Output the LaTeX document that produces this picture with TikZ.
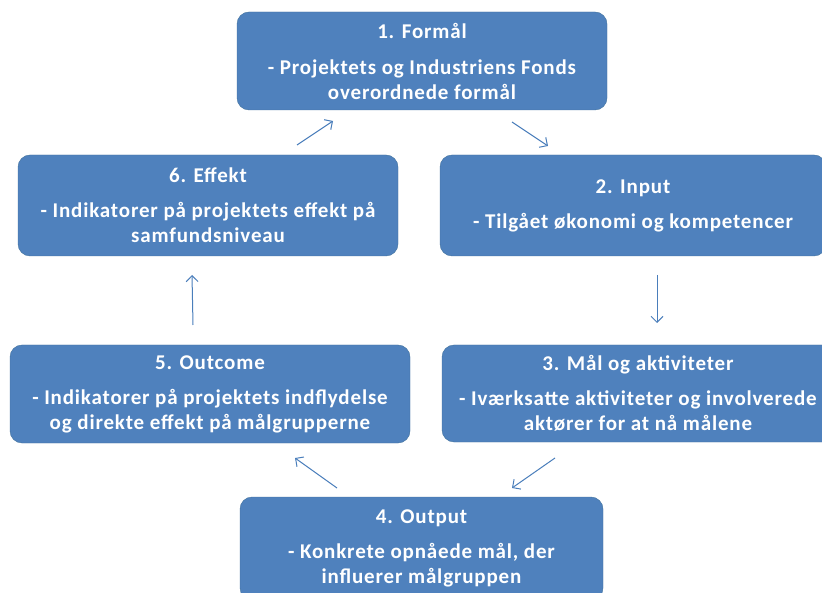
\documentclass[tikz,border=0pt]{standalone}
\usepackage{fontspec}
\setmainfont{Carlito}
\usetikzlibrary{arrows.meta}
\definecolor{boxblue}{HTML}{4F81BD}
\definecolor{boxedge}{HTML}{41719C}
\definecolor{arrowblue}{HTML}{4A7EBB}
\tikzset{
  stepbox/.style={draw=boxedge, fill=boxblue, rounded corners=12pt, text=white,
    align=center, inner sep=0pt,
    font=\fontsize{21}{25}\selectfont\bfseries\addfontfeature{LetterSpace=4}},
  cyclearrow/.style={draw=arrowblue, line width=1pt,
    -{Straight Barb[length=6pt,width=12pt]}}
}
\begin{document}
\begin{tikzpicture}[x=1pt,y=-1pt]
    \useasboundingbox (0,0) rectangle (822,593);
    % steps
    \node[stepbox, minimum width=370, minimum height=98] (formaal) at (422,61)
      {1. Formål\\[11pt]- Projektets og Industriens Fonds\\overordnede formål};
    \node[stepbox, minimum width=386, minimum height=101] (input) at (633,205.5)
      {2. Input\\[10pt]- Tilgået økonomi og kompetencer};
    \node[stepbox, minimum width=392, minimum height=97] (maal) at (638,393.5)
      {3. Mål og aktiviteter\\[10pt]- Iværksatte aktiviteter og involverede\\aktører for at nå målene};
    \node[stepbox, minimum width=363, minimum height=103] (output) at (421.5,548.5)
      {4. Output\\[10pt]- Konkrete opnåede mål, der\\influerer målgruppen};
    \node[stepbox, minimum width=400, minimum height=98] (outcome) at (210,394)
      {5. Outcome\\[10pt]- Indikatorer på projektets indflydelse\\og direkte effekt på målgrupperne};
    \node[stepbox, minimum width=380, minimum height=101] (effekt) at (208,205.5)
      {6. Effekt\\[10pt]- Indikatorer på projektets effekt på\\samfundsniveau};
    % arrow ends
    \coordinate (e1) at (297,145);  \coordinate (f1) at (333,121);
    \coordinate (e2) at (512,122);  \coordinate (f2) at (548,146);
    \coordinate (e3) at (657,275);  \coordinate (f3) at (657,323);
    \coordinate (e4) at (555,458);  \coordinate (f4) at (512,488);
    \coordinate (e5) at (337,488);  \coordinate (f5) at (295,458);
    \coordinate (e6) at (193,325);  \coordinate (f6) at (192,275);
    % cycle
    \draw[cyclearrow] (e1) -- (f1);
    \draw[cyclearrow] (e2) -- (f2);
    \draw[cyclearrow] (e3) -- (f3);
    \draw[cyclearrow] (e4) -- (f4);
    \draw[cyclearrow] (e5) -- (f5);
    \draw[cyclearrow] (e6) -- (f6);
\end{tikzpicture}
\end{document}
